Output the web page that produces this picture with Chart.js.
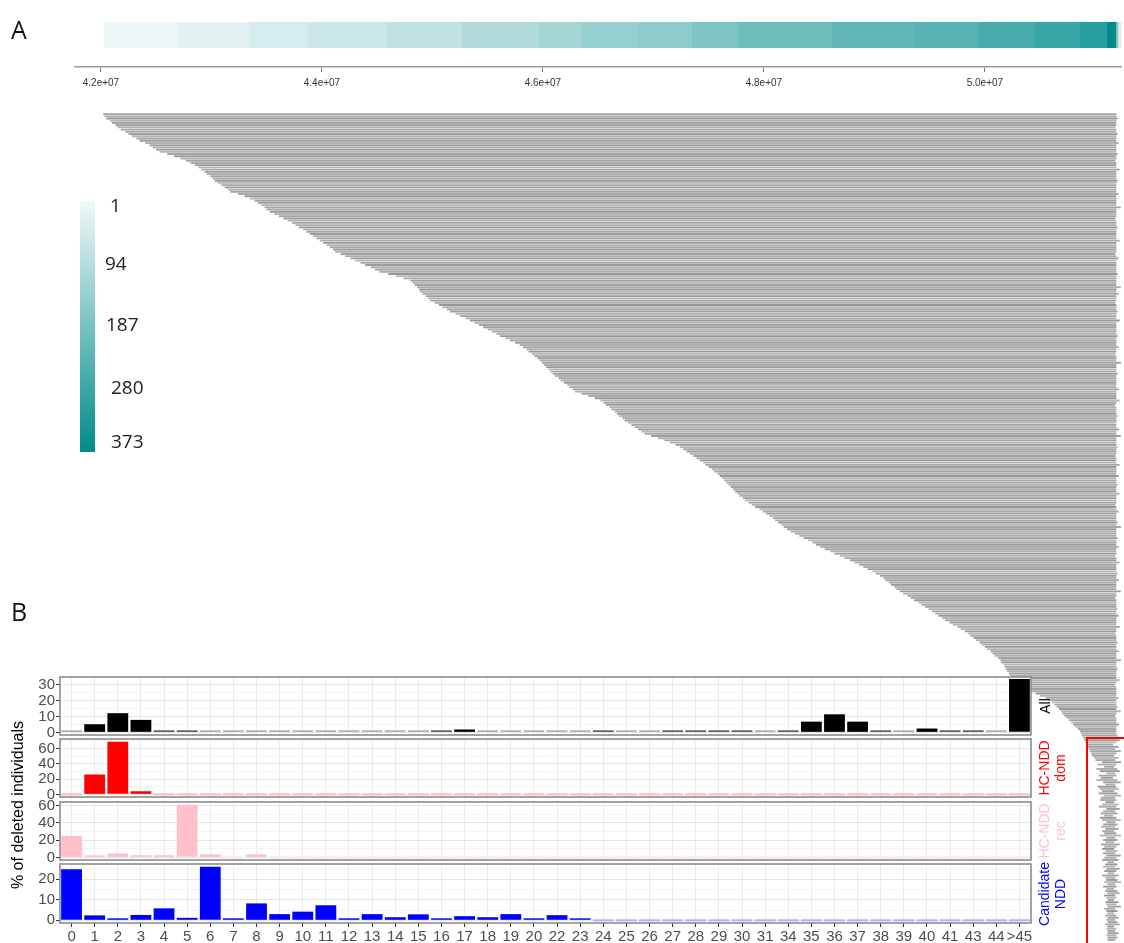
<!DOCTYPE html>
<html>
<head>
<meta charset="utf-8">
<script src="https://cdn.jsdelivr.net/npm/chart.js@4.4.1/dist/chart.umd.min.js"></script>
<style>
html,body{margin:0;padding:0;background:#fff;}
body{width:1124px;height:943px;overflow:hidden;position:relative;font-family:"Liberation Sans",Arial,sans-serif;}
canvas{position:absolute;}
.lbl{position:absolute;white-space:nowrap;}
.rot{position:absolute;white-space:nowrap;text-align:center;transform:translate(-50%,-50%) rotate(-90deg);}
</style>
</head>
<body>
<canvas id="cov" style="left:0;top:22px;width:1124px;height:26px" width="1124" height="26"></canvas>
<canvas id="axis" style="left:0;top:40px;width:1124px;height:57px" width="1124" height="57"></canvas>
<canvas id="dels" style="left:0;top:110px;width:1124px;height:833px" width="1124" height="833"></canvas>
<canvas id="pAll" style="left:0;top:667px;width:1040px;height:78px" width="1040" height="78"></canvas>
<canvas id="pDom" style="left:0;top:729px;width:1040px;height:78px" width="1040" height="78"></canvas>
<canvas id="pRec" style="left:0;top:792px;width:1040px;height:78px" width="1040" height="78"></canvas>
<canvas id="pCand" style="left:0;top:854px;width:1040px;height:93px" width="1040" height="93"></canvas>

<div class="lbl" style="left:11px;top:12px;font:25px 'Open Sans',sans-serif;color:#111;">A</div>
<div class="lbl" style="left:11px;top:594px;font:25px 'Open Sans',sans-serif;color:#111;">B</div>

<div id="legendBar" style="position:absolute;left:80px;top:201px;width:15px;height:251px;background:linear-gradient(to bottom,#f2f9f9,#008b8b);"></div>
<div class="lbl" style="left:110px;top:192px;font:19px 'Open Sans',sans-serif;color:#222;">1</div>
<div class="lbl" style="left:105px;top:250px;font:19px 'Open Sans',sans-serif;color:#222;">94</div>
<div class="lbl" style="left:106px;top:311px;font:19px 'Open Sans',sans-serif;color:#222;">187</div>
<div class="lbl" style="left:111px;top:374px;font:19px 'Open Sans',sans-serif;color:#222;">280</div>
<div class="lbl" style="left:111px;top:428px;font:19px 'Open Sans',sans-serif;color:#222;">373</div>

<div class="rot" style="left:18px;top:805px;font-size:16px;color:#000;">% of deleted individuals</div>
<div class="rot" style="left:1045px;top:706px;font-size:14px;line-height:16px;color:#000;">All</div>
<div class="rot" style="left:1052px;top:768px;font-size:14px;line-height:16px;color:#ff0000;">HC-NDD<br>dom</div>
<div class="rot" style="left:1052px;top:831px;font-size:14px;line-height:16px;color:#ffc0cb;">HC-NDD<br>rec</div>
<div class="rot" style="left:1052px;top:894px;font-size:14px;line-height:16px;color:#0000ff;">Candidate<br>NDD</div>

<div style="position:absolute;left:1086px;top:737px;width:50px;height:230px;border:2px solid #ff0000;box-sizing:border-box;"></div>

<script>
// ---------- Panel A data (positions in Mb) ----------
const axisTicks = [42, 44, 46, 48, 50];

const coverageStarts = [42.03, 42.70, 43.34, 43.87, 44.59, 45.27, 45.97, 46.36, 46.86, 47.35, 47.77, 48.62, 49.37, 49.95, 50.45, 50.86, 51.11, 51.19, 51.21];
const coverageEnds   = [42.70, 43.34, 43.87, 44.59, 45.27, 45.97, 46.36, 46.86, 47.35, 47.77, 48.62, 49.37, 49.95, 50.45, 50.86, 51.11, 51.19, 51.21, 51.23];
const coverageCounts = [5, 24, 46, 61, 80, 101, 120, 142, 157, 180, 202, 224, 239, 261, 284, 310, 373, 180, 40];

const deletionStarts = [
 42.02,42.03,42.05,42.08,42.10,
 42.13,42.15,42.18,42.22,42.25,42.28,42.32,
 42.35,42.40,42.44,42.47,42.50,
 42.53,42.60,42.66,42.72,42.77,42.81,
 42.85,42.88,42.91,42.94,42.96,42.99,43.01,
 43.03,43.06,43.09,43.12,43.15,
 43.17,43.24,43.30,43.35,
 43.39,43.42,43.45,43.48,43.50,
 43.53,43.57,43.61,43.65,43.69,43.73,
 43.76,43.79,43.83,43.86,43.89,43.92,43.95,
 43.98,44.01,44.04,44.07,44.10,
 44.12,44.17,44.21,44.26,
 44.30,44.35,44.39,44.44,44.48,
 44.52,44.60,44.67,44.74,
 44.80,44.82,44.84,44.86,44.88,
 44.89,44.91,44.94,44.96,
 44.98,45.02,45.06,45.09,45.13,
 45.16,45.21,45.25,45.30,
 45.34,45.38,45.42,45.46,45.50,45.54,45.58,
 45.61,45.66,45.70,45.75,
 45.79,45.82,45.85,45.87,45.90,45.92,45.95,
 45.97,45.99,46.01,46.03,46.05,46.07,46.09,
 46.11,46.14,46.16,46.19,46.22,46.24,46.27,
 46.29,46.35,46.41,46.47,
 46.52,46.55,46.57,46.60,46.62,
 46.65,46.67,46.69,46.72,
 46.74,46.77,46.80,46.83,46.86,46.89,
 46.92,46.98,47.04,47.10,47.15,47.20,
 47.24,47.27,47.30,47.33,47.36,47.39,
 47.42,47.45,47.47,47.50,47.53,47.55,47.58,
 47.60,47.62,47.64,47.66,47.68,47.70,47.72,
 47.74,47.76,47.78,47.81,
 47.83,47.86,47.89,47.92,47.96,47.99,48.02,
 48.05,48.08,48.10,48.13,48.16,48.18,48.21,
 48.24,48.28,48.32,48.36,48.40,48.44,48.47,
 48.51,48.55,48.60,48.64,48.69,48.73,
 48.78,48.82,48.86,48.90,48.94,48.98,49.01,
 49.05,49.08,49.10,49.13,49.15,49.18,49.20,
 49.23,49.26,49.30,49.33,49.36,49.40,49.43,
 49.46,49.49,49.52,49.55,49.58,49.61,
 49.64,49.68,49.71,49.75,49.78,
 49.82,49.85,49.87,49.90,49.92,49.95,49.97,
 50.00,50.02,50.05,50.07,50.09,50.12,
 50.14,50.15,50.17,50.18,50.19,50.20,50.22,
 50.23,50.26,50.28,50.31,50.33,50.36,50.38,
 50.41,50.46,50.50,50.55,
 50.59,50.61,50.63,50.65,50.67,50.69,50.70,
 50.72,50.74,50.76,50.78,50.80,50.82,50.84,
 50.86,50.87,50.88,50.89,
 50.90,50.91,50.92,50.93,50.94,50.95,50.96,50.97,50.99,
 51.00,51.06,51.02,51.08,51.01,51.04,51.10,51.03,51.05,51.01,51.07,51.09,51.02,51.04,51.06,51.03,51.08,51.05,
 51.04,51.09,51.06,51.03,51.10,51.07,51.05,51.08,51.04,51.06,51.10,51.07,51.05,51.09,51.06,51.08,51.04,51.10,51.07,51.09,51.05,51.08,51.06,
 51.09,51.07,51.10,51.08,51.06,51.11,51.09,51.07,51.10,51.08,51.11,51.06,51.09,51.10,51.08,51.11,51.07,51.10,51.09,51.11,51.08,51.10,
 51.11,51.09,51.10,51.11,51.08,51.10,51.11,51.09,51.11,51.10,51.11,51.09,51.11,51.10,51.11,51.11,51.10,51.11,51.11
];

const deletionEnds = [
 51.19,51.19,51.20,51.19,51.19,51.19,51.18,51.19,51.19,51.20,
 51.19,51.19,51.19,51.21,51.19,51.19,51.19,51.19,51.20,51.19,
 51.19,51.18,51.19,51.19,51.19,51.22,51.19,51.19,51.19,51.19,
 51.20,51.19,51.19,51.19,51.19,51.19,51.21,51.19,51.19,51.19,
 51.19,51.19,51.23,51.19,51.19,51.19,51.19,51.18,51.19,51.19,
 51.19,51.20,51.19,51.19,51.19,51.19,51.19,51.22,51.19,51.19,
 51.19,51.19,51.19,51.18,51.19,51.21,51.19,51.19,51.19,51.19,
 51.19,51.19,51.20,51.19,51.19,51.19,51.19,51.19,51.23,51.19,
 51.19,51.21,51.19,51.19,51.19,51.18,51.19,51.19,51.19,51.20,
 51.19,51.19,51.19,51.22,51.19,51.19,51.19,51.19,51.19,51.19,
 51.20,51.19,51.19,51.19,51.19,51.21,51.19,51.19,51.18,51.19,
 51.19,51.19,51.24,51.19,51.19,51.19,51.19,51.20,51.19,51.19,
 51.19,51.19,51.19,51.19,51.21,51.19,51.19,51.19,51.19,51.22,
 51.19,51.18,51.19,51.19,51.19,51.19,51.20,51.19,51.19,51.19,
 51.19,51.19,51.21,51.19,51.19,51.23,51.19,51.19,51.19,51.19,
 51.20,51.19,51.19,51.19,51.18,51.19,51.19,51.19,51.22,51.19,
 51.19,51.19,51.19,51.21,51.19,51.19,51.19,51.20,51.19,51.19,
 51.19,51.22,51.19,51.19,51.19,51.19,51.18,51.19,51.19,51.21,
 51.19,51.19,51.19,51.19,51.20,51.19,51.24,51.19,51.19,51.19,
 51.19,51.20,51.19,51.19,51.19,51.21,51.19,51.19,51.19,51.18,
 51.19,51.19,51.22,51.19,51.19,51.19,51.19,51.20,51.19,51.19,
 51.21,51.19,51.19,51.19,51.19,51.23,51.19,51.19,51.18,51.19,
 51.19,51.19,51.19,51.20,51.19,51.19,51.21,51.19,51.19,51.19,
 51.19,51.22,51.19,51.19,51.18,51.19,51.19,51.19,51.20,51.19,
 51.19,51.19,51.21,51.19,51.19,51.19,51.24,51.19,51.19,51.19,
 51.20,51.19,51.19,51.19,51.19,51.22,51.19,51.18,51.19,51.19,
 51.19,51.19,51.19,51.21,51.19,51.19,51.19,51.20,51.19,51.23,
 51.19,51.18,51.19,51.19,51.19,51.21,51.19,51.19,51.19,51.19,
 51.20,51.17,51.22,51.19,51.16,51.21,51.18,51.23,51.19,51.17,
 51.21,51.18,51.24,51.19,51.17,51.20,51.22,51.18,51.19,51.16,
 51.20,51.23,51.18,51.19,51.21,51.17,51.20,51.24,51.18,51.19,
 51.17,51.21,51.19,51.22,51.18,51.20,51.16,51.19,51.23,51.18,
 51.20,51.18,51.21,51.17,51.19,51.24,51.18,51.20,51.17,51.22,
 51.19,51.17,51.20,51.18,51.23,51.19,51.21,51.17,51.20,51.18,
 51.22,51.19,51.17,51.21,51.18,51.20,51.24,51.18,51.19,51.17,
 51.20,51.22,51.18,51.19,51.17,51.21,51.19,51.23,51.18,51.20,
 51.17,51.19,51.21,51.18,51.20,51.22,51.17,51.19,51.18,51.21,
 51.19,51.20,51.18
];

// ---------- Panel B data (% of deleted individuals) ----------
const categories = ['0','1','2','3','4','5','6','7','8','9','10','11','12','13','14','15','16','17','18','19','20','22','23','24','25','26','27','28','29','30','31','34','35','36','37','38','39','40','41','43','44','>45'];
const pctAll  = [0.2,5.1,12.0,7.8,1.0,1.0,0.4,0.4,0.2,0.2,0.2,0.4,0.4,0.4,0.2,0.2,0.6,1.8,0.4,0.4,0.2,0.2,0.2,0.8,0.4,0.4,0.6,0.7,0.8,1.0,0.2,0.6,6.7,11.3,6.7,0.9,0.3,2.4,1.0,0.7,0.2,33.4];
const pctDom  = [0,26,69,4.1,0,0,0,0,0,0,0,0,0,0,0,0,0,0,0,0,0,0,0,0,0,0,0,0,0,0,0,0,0,0,0,0,0,0,0,0,0,0];
const pctRec  = [25,1.5,4.5,2.5,2.5,61,3.5,0,3.5,0,0,0,0,0,0,0,0,0,0,0,0,0,0,0,0,0,0,0,0,0,0,0,0,0,0,0,0,0,0,0,0,0];
const pctCand = [24.8,2.4,0.5,2.6,5.8,1.2,26,0.6,8.2,3.0,4.2,7.3,0.5,3.0,1.5,2.9,0.5,2.0,1.5,3.0,0.6,2.5,0.8,0,0,0,0,0,0,0,0,0,0,0,0,0,0,0,0,0,0,0];

const ticksAll  = [0,5,10,15,20,25,30];
const ticksDom  = [0,10,20,30,40,50,60,70];
const ticksRec  = [0,10,20,30,40,50,60];
const ticksCand = [0,5,10,15,20,25];

// ---------- styling ----------
Chart.defaults.font.family = "'Liberation Sans', Arial, sans-serif";
Chart.defaults.animation = false;
const X_MIN = 41.765, X_MAX = 51.232;
const lowTeal = [242,249,249], highTeal = [0,139,139];
function tealFor(count){
  const t = (count - 1) / 372;
  const c = lowTeal.map((v,k)=>Math.round(v + (highTeal[k]-v)*t));
  return `rgb(${c[0]},${c[1]},${c[2]})`;
}
const grays = ['#a3a3a3','#ababab','#979797','#b5b5b5','#a6a6a6','#9d9d9d','#b0b0b0'];
const noLegend = {legend:{display:false}, tooltip:{enabled:false}};

// coverage strip
new Chart(document.getElementById('cov'), {
  type:'bar',
  data:{labels:['cov'], datasets:[{
    data: coverageStarts.map((s,i)=>({x:[s, coverageEnds[i]], y:'cov'})),
    backgroundColor: ctx => tealFor(coverageCounts[ctx.dataIndex]),
    barPercentage:1, categoryPercentage:1, borderWidth:0
  }]},
  options:{indexAxis:'y', responsive:false, plugins:noLegend,
    layout:{padding:{left:75,right:3,top:0,bottom:0}},
    scales:{x:{type:'linear', min:X_MIN, max:X_MAX, display:false}, y:{type:'category', display:false}}}
});

// genomic axis
new Chart(document.getElementById('axis'), {
  type:'scatter',
  data:{datasets:[{data:[]}]},
  options:{responsive:false, plugins:noLegend,
    layout:{padding:{left:75,right:3,top:0,bottom:0}},
    scales:{
      x:{type:'linear', position:'bottom', min:X_MIN, max:X_MAX,
        afterBuildTicks: s => { s.ticks = axisTicks.map(v=>({value:v})); },
        afterFit: s => { s.height = 30; s.paddingLeft = 0; s.paddingRight = 0; },
        grid:{drawOnChartArea:false, drawTicks:true, tickLength:5, tickColor:'#777', lineWidth:1},
        border:{display:true, color:'#999', width:1.5},
        ticks:{padding:5, color:'#333', font:{size:10}, maxRotation:0, autoSkip:false,
          callback: v => (v/10).toFixed(1) + 'e+07'}},
      y:{display:false}
    }}
});

// deletion segments
new Chart(document.getElementById('dels'), {
  type:'bar',
  data:{labels: deletionStarts.map((_,i)=>String(i+1)), datasets:[{
    data: deletionStarts.map((s,i)=>[s, deletionEnds[i]]),
    backgroundColor: ctx => grays[ctx.dataIndex % grays.length],
    barPercentage:0.85, categoryPercentage:1, borderWidth:0
  }]},
  options:{indexAxis:'y', responsive:false, plugins:noLegend,
    layout:{padding:{left:75,right:3,top:3,bottom:2}},
    scales:{x:{type:'linear', min:X_MIN, max:X_MAX, display:false}, y:{type:'category', display:false}}}
});

// facet panels
const framePlugin = {
  id:'frame',
  beforeDraw(chart){ const {ctx, chartArea:a} = chart; ctx.save(); ctx.fillStyle='#fff'; ctx.fillRect(a.left,a.top,a.right-a.left,a.bottom-a.top); ctx.restore(); },
  afterDraw(chart){ const {ctx, chartArea:a} = chart; ctx.save(); ctx.strokeStyle='#8c8c8c'; ctx.lineWidth=1.6; ctx.strokeRect(a.left,a.top,a.right-a.left,a.bottom-a.top); ctx.restore(); }
};

function panel(id, values, colorFn, yMin, yMax, yTicks, yMajor, showX){
  return new Chart(document.getElementById(id), {
    type:'bar',
    data:{labels: categories, datasets:[{data: values, backgroundColor: ctx => colorFn(ctx.raw),
      minBarLength:2, barPercentage:0.9, categoryPercentage:1, borderWidth:0}]},
    options:{responsive:false, plugins:noLegend,
      layout:{padding:{left:0,right:9,top:10,bottom: showX ? 0 : 10}},
      scales:{
        x:{type:'category', offset:true,
          grid:{offset:false, color:'#ebebeb', lineWidth:1, drawTicks:showX, tickLength:4, tickColor:'#333'},
          border:{display:false},
          ticks:{display:showX, autoSkip:false, maxRotation:0, minRotation:0, color:'#4d4d4d', font:{size:15}, padding:1},
          afterFit: s => { s.height = showX ? 24 : 0; s.paddingLeft = 0; s.paddingRight = 0; }},
        y:{min:yMin, max:yMax,
          afterBuildTicks: s => { s.ticks = yTicks.map(v=>({value:v})); },
          afterFit: s => { s.width = 60; s.paddingTop = 0; s.paddingBottom = 0; },
          grid:{color: c => (c.tick && c.tick.value % yMajor === 0) ? '#e6e6e6' : '#f4f4f4',
                tickColor: c => (c.tick && c.tick.value % yMajor === 0) ? '#333' : 'rgba(0,0,0,0)',
                tickLength:4, lineWidth:1},
          border:{display:false},
          ticks:{color:'#4d4d4d', font:{size:15}, padding:1, autoSkip:false, callback: v => (v % yMajor === 0) ? v : ''}}
      }},
    plugins:[framePlugin]
  });
}

panel('pAll', pctAll, v => v < 0.5 ? '#a6a6a6' : (v < 1.2 ? '#4a4a4a' : '#000000'), -1.65, 34.65, ticksAll, 10, false);
panel('pDom', pctDom, v => v < 0.5 ? '#f9bcbc' : '#ff0000', -3.45, 72.45, ticksDom, 20, false);
panel('pRec', pctRec, v => v < 0.5 ? '#fde4e8' : '#ffc0cb', -3.05, 64.05, ticksRec, 20, false);
panel('pCand', pctCand, v => v < 0.5 ? '#aab0ff' : '#0000ff', -1.3, 27.3, ticksCand, 10, true);
</script>
</body>
</html>
